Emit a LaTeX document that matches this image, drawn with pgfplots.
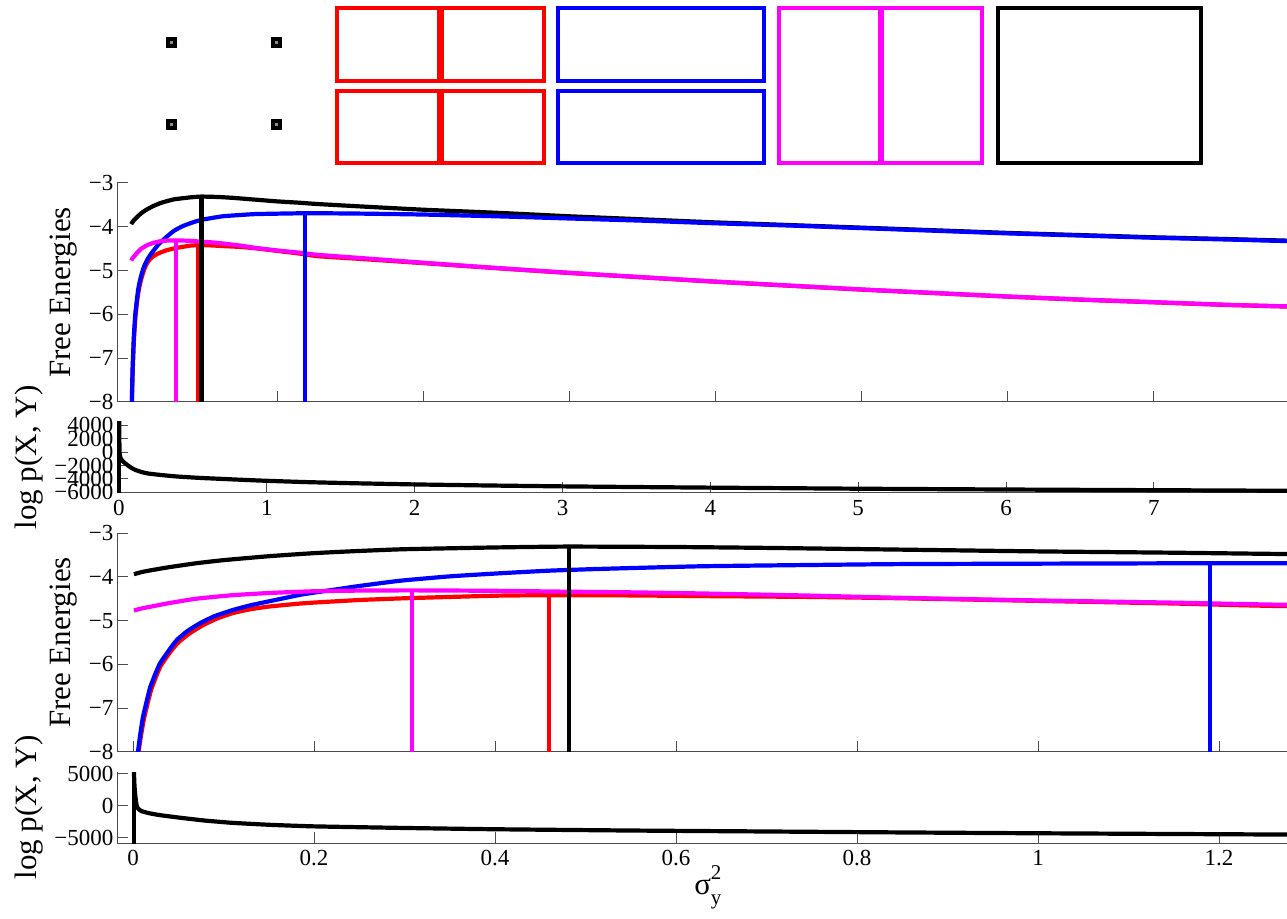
\documentclass[border=0pt]{standalone}
\usepackage{fontspec}
\setmainfont{Liberation Serif}
\usepackage{pgfplots}
\usepackage{pgfplotstable}
\pgfplotsset{compat=1.18}

\pgfplotstableread{
x y
0.001 -3.94
0.01 -3.89
0.02 -3.85
0.04 -3.78
0.07 -3.69
0.1 -3.62
0.15 -3.53
0.2 -3.46
0.25 -3.41
0.3 -3.37
0.4 -3.33
0.48 -3.31
0.6 -3.32
0.7 -3.34
0.85 -3.38
1.0 -3.42
1.15 -3.45
1.275 -3.48
1.6 -3.54
2 -3.61
2.5 -3.68
3 -3.76
3.5 -3.83
4 -3.90
4.5 -3.96
5 -4.02
5.5 -4.08
6 -4.14
6.5 -4.19
7 -4.24
7.5 -4.28
7.95 -4.32
}\blackFE

\pgfplotstableread{
x y
0.005 -8.3
0.0055 -8.0
0.008 -7.6
0.011 -7.2
0.015 -6.85
0.019 -6.52
0.025 -6.2
0.03 -5.97
0.04 -5.67
0.0486 -5.44
0.06 -5.24
0.074 -5.06
0.09 -4.90
0.11 -4.76
0.13 -4.65
0.148 -4.57
0.185 -4.41
0.207 -4.34
0.25 -4.21
0.295 -4.09
0.35 -3.99
0.405 -3.92
0.46 -3.86
0.516 -3.82
0.627 -3.76
0.75 -3.73
0.848 -3.71
1.0 -3.70
1.19 -3.69
1.275 -3.69
1.6 -3.70
2 -3.72
2.5 -3.76
3 -3.81
3.5 -3.86
4 -3.92
4.5 -3.97
5 -4.03
5.5 -4.09
6 -4.15
6.5 -4.20
7 -4.25
7.5 -4.29
7.95 -4.33
}\blueFE

\pgfplotstableread{
x y
0.0058 -8.3
0.0062 -8.0
0.009 -7.6
0.012 -7.25
0.016 -6.9
0.02 -6.58
0.026 -6.25
0.031 -6.02
0.041 -5.72
0.05 -5.50
0.062 -5.30
0.076 -5.12
0.092 -4.96
0.11 -4.83
0.13 -4.74
0.15 -4.68
0.185 -4.61
0.207 -4.58
0.25 -4.53
0.3 -4.49
0.35 -4.46
0.405 -4.43
0.46 -4.42
0.55 -4.425
0.627 -4.44
0.75 -4.46
0.848 -4.49
1.0 -4.55
1.15 -4.61
1.275 -4.67
1.6 -4.74
2 -4.83
2.5 -4.945
3 -5.055
3.5 -5.155
4 -5.255
4.5 -5.345
5 -5.435
5.5 -5.515
6 -5.595
6.5 -5.665
7 -5.725
7.5 -5.785
7.95 -5.825
}\redFE

\pgfplotstableread{
x y
0.001 -4.77
0.01 -4.72
0.02 -4.68
0.04 -4.60
0.07 -4.50
0.11 -4.42
0.15 -4.37
0.2 -4.33
0.25 -4.315
0.308 -4.31
0.4 -4.32
0.48 -4.34
0.55 -4.355
0.627 -4.38
0.75 -4.43
0.848 -4.48
1.0 -4.54
1.15 -4.59
1.275 -4.64
1.6 -4.72
2 -4.82
2.5 -4.94
3 -5.05
3.5 -5.15
4 -5.25
4.5 -5.34
5 -5.43
5.5 -5.51
6 -5.59
6.5 -5.66
7 -5.72
7.5 -5.78
7.95 -5.82
}\magFE

\pgfplotstableread{
x y
0.001 5300
0.0015 3500
0.002 2400
0.003 1000
0.0044 -150
0.007 -600
0.01 -850
0.018 -1150
0.03 -1450
0.055 -1900
0.08 -2300
0.11 -2650
0.15 -2950
0.2 -3200
0.3 -3450
0.4 -3650
0.55 -3850
0.7 -4000
0.85 -4150
1.0 -4280
1.275 -4480
1.6 -4650
2 -4820
2.5 -4980
3 -5110
3.5 -5210
4 -5300
5 -5460
6 -5580
7 -5680
7.9 -5770
}\logp

\definecolor{mred}{rgb}{1,0,0}
\definecolor{mblue}{rgb}{0,0,1}
\definecolor{mmag}{rgb}{1,0,1}

\pgfplotsset{
  panel/.style={
    scale only axis, width=1170pt,
    axis x line*=bottom, axis y line*=left,
    axis line style={-, draw=black!70, line width=1pt},
    tick align=inside, major tick length=11pt,
    tick style={draw=black!70, line width=1pt},
    ticklabel style={font=\fontsize{23}{23}\selectfont},
    xticklabel style={yshift=-4pt},
    scaled ticks=false,
    label style={font=\fontsize{31}{31}\selectfont},
    ylabel style={anchor=center},
    every axis plot/.append style={line width=4.2pt},
  },
  fe/.style={
    panel, height=219pt, ymin=-8, ymax=-3,
    ytick={-8,-7,-6,-5,-4,-3},
    yticklabels={−8,−7,−6,−5,−4,−3},
    ylabel={Free Energies},
    ylabel style={at={(axis description cs:-0.0453,0.5)}},
  },
  lp/.style={
    panel, height=71pt,
    ylabel={log p(X, Y)},
    ylabel style={at={(axis description cs:-0.0749,0.5)}},
  },
}

\newcommand{\feplots}{%
  \addplot[black, smooth, tension=0.3] table {\blackFE};
  \addplot[mred, smooth, tension=0.3] table {\redFE};
  \addplot[mblue, smooth, tension=0.3] table {\blueFE};
  \addplot[mmag, smooth, tension=0.3] table {\magFE};
  \addplot[mred] coordinates {(0.46,-8) (0.46,-4.42)};
  \addplot[mmag] coordinates {(0.308,-8) (0.308,-4.31)};
  \addplot[mblue] coordinates {(1.19,-8) (1.19,-3.69)};
  \addplot[black] coordinates {(0.482,-8) (0.482,-3.31)};
}
\newcommand{\lpplots}{%
  \addplot[black, smooth, tension=0.3] table {\logp};
  \addplot[black] coordinates {(0.001,-6200) (0.001,5300)};
}

\begin{document}
\begin{tikzpicture}
\useasboundingbox (0,0) rectangle (1287pt,918pt);

% partition boxes
\begin{axis}[at={(0pt,748pt)}, anchor=south west, scale only axis,
  width=1287pt, height=170pt, xmin=0, xmax=1287, ymin=0, ymax=170,
  y dir=reverse, hide axis, clip=false]
  \addplot[only marks, mark=square*, mark size=5pt, mark options={fill=black, draw=black}]
    coordinates {(170.8,42.2) (275.8,42.2) (170.8,124.7) (275.8,124.7)};
  \addplot[only marks, mark=square*, mark size=1pt, mark options={fill=black!45, draw=black!45}]
    coordinates {(170.8,42.2) (275.8,42.2) (170.8,124.7) (275.8,124.7)};
  \addplot[mred, line width=3.9pt, line join=miter] coordinates {(337,8) (439.3,8) (439.3,81) (337,81)} --cycle;
  \addplot[mred, line width=3.9pt, line join=miter] coordinates {(442,8) (544,8) (544,81) (442,81)} --cycle;
  \addplot[mred, line width=3.9pt, line join=miter] coordinates {(337,91) (439.3,91) (439.3,163) (337,163)} --cycle;
  \addplot[mred, line width=3.9pt, line join=miter] coordinates {(442,91) (544,91) (544,163) (442,163)} --cycle;
  \addplot[mblue, line width=3.9pt, line join=miter] coordinates {(558,8) (764,8) (764,81) (558,81)} --cycle;
  \addplot[mblue, line width=3.9pt, line join=miter] coordinates {(558,91) (764,91) (764,163) (558,163)} --cycle;
  \addplot[mmag, line width=3.6pt, line join=miter] coordinates {(779,8) (879.3,8) (879.3,163) (779,163)} --cycle;
  \addplot[mmag, line width=3.6pt, line join=miter] coordinates {(882,8) (982,8) (982,163) (882,163)} --cycle;
  \addplot[black, line width=3.9pt, line join=miter] coordinates {(997.7,8) (1201.3,8) (1201.3,163) (997.7,163)} --cycle;
\end{axis}

% upper free energies
\begin{axis}[fe, at={(117pt,516pt)}, anchor=south west,
  xmin=-0.096, xmax=7.91, xtick={0,1,2,3,4,5,6,7}, xticklabels={}]
  \feplots
\end{axis}

% upper log p
\begin{axis}[lp, at={(117pt,425pt)}, anchor=south west,
  xmin=-0.0135, xmax=7.90, ymin=-6100, ymax=4500,
  xtick={0,1,2,3,4,5,6,7}, xticklabels={0,1,2,3,4,5,6,7},
  ytick={-6000,-4000,-2000,0,2000,4000},
  yticklabels={−6000,−4000,−2000,0,2000,4000}]
  \lpplots
\end{axis}

% lower free energies
\begin{axis}[fe, at={(117pt,166pt)}, anchor=south west,
  xmin=-0.0177, xmax=1.2751, xtick={0,0.2,0.4,0.6,0.8,1,1.2}, xticklabels={}]
  \feplots
\end{axis}

% lower log p
\begin{axis}[lp, at={(117pt,75pt)}, anchor=south west,
  xmin=-0.0177, xmax=1.2751, ymin=-5800, ymax=5300,
  xtick={0,0.2,0.4,0.6,0.8,1,1.2}, xticklabels={0,0.2,0.4,0.6,0.8,1,1.2},
  ytick={-5000,0,5000}, yticklabels={−5000,0,5000},
  xlabel={σ\rlap{\raisebox{0.5em}{\fontsize{21}{21}\selectfont 2}}\raisebox{-0.32em}{\fontsize{21}{21}\selectfont y}},
  xlabel style={at={(axis description cs:0.505,-0.732)}, anchor=base}]
  \lpplots
\end{axis}
\end{tikzpicture}
\end{document}
